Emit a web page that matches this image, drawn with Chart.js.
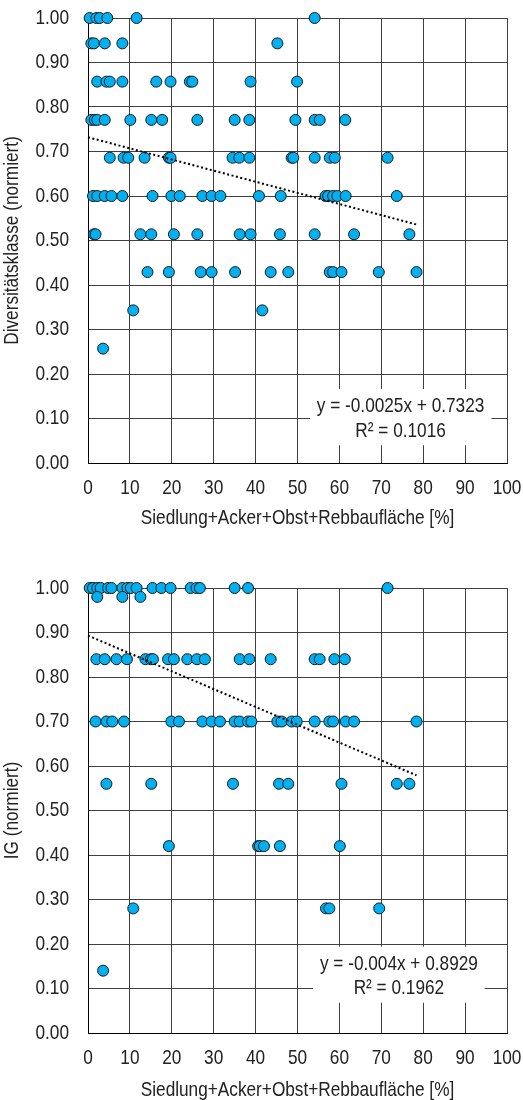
<!DOCTYPE html>
<html>
<head>
<meta charset="utf-8">
<script src="https://cdn.jsdelivr.net/npm/chart.js@4.4.1/dist/chart.umd.min.js"></script>
<style>
  html, body { margin: 0; padding: 0; background: #fff; overflow: hidden; }
  .wrap { position: absolute; left: 0; width: 523px; }
  #wrap1 { top: 0; height: 550px; }
  #wrap2 { top: 545px; height: 560px; }
</style>
</head>
<body>
<div class="wrap" id="wrap1"><canvas id="chart1" width="523" height="550"></canvas></div>
<div class="wrap" id="wrap2"><canvas id="chart2" width="523" height="560"></canvas></div>
<script>
// x axis: Siedlung+Acker+Obst+Rebbaufläche [%]
const xTicks = [0, 10, 20, 30, 40, 50, 60, 70, 80, 90, 100];
const yTicks = [0, 0.1, 0.2, 0.3, 0.4, 0.5, 0.6, 0.7, 0.8, 0.9, 1.0];

// Diversitätsklasse: one y level per row, x values
const divLevels = [1.000, 0.943, 0.857, 0.771, 0.686, 0.600, 0.514, 0.429, 0.343, 0.257];
const divRows = [
  [0.4, 2.0, 2.8, 4.6, 11.6, 54.1],
  [0.8, 1.4, 4.0, 8.2, 45.2],
  [2.2, 4.4, 5.2, 8.2, 16.3, 19.7, 24.3, 24.9, 38.8, 49.9],
  [0.8, 1.6, 2.2, 4.0, 10.1, 15.1, 17.7, 26.1, 35.0, 38.5, 49.5, 54.1, 55.3, 61.4],
  [5.2, 8.5, 9.6, 13.5, 19.3, 19.7, 34.5, 36.1, 38.5, 48.6, 49.0, 54.1, 57.7, 58.9, 71.5],
  [1.2, 2.2, 4.0, 5.6, 8.2, 15.4, 19.9, 21.9, 27.3, 29.5, 31.6, 40.8, 46.0, 56.7, 57.3, 58.5, 59.5, 61.5, 73.7],
  [1.4, 1.8, 12.5, 15.1, 20.5, 26.1, 36.2, 38.8, 45.8, 54.1, 63.5, 76.7],
  [14.2, 19.3, 26.9, 29.5, 35.1, 43.6, 47.8, 57.7, 58.5, 60.5, 69.4, 78.4],
  [10.8, 41.6],
  [3.6]
];
const divTrendX = [0, 78.8];
const divTrendY = [0.732, 0.535];
const divEq = ['y = -0.0025x + 0.7323', 'R² = 0.1016'];

// IG (normiert)
const igLevels = [1.00, 0.98, 0.84, 0.70, 0.56, 0.42, 0.28, 0.14];
const igRows = [
  [0.4, 1.2, 2.2, 3.0, 4.8, 5.6, 8.2, 9.4, 10.2, 11.6, 15.4, 17.5, 19.7, 24.5, 25.9, 26.7, 35.0, 38.2, 71.5],
  [2.2, 8.2, 12.5],
  [2.0, 4.0, 6.8, 9.3, 13.7, 15.0, 15.5, 19.1, 20.5, 23.7, 26.0, 27.9, 36.2, 38.5, 43.6, 54.1, 55.3, 58.8, 61.3],
  [1.8, 4.4, 5.8, 8.6, 19.9, 21.7, 27.3, 29.5, 31.5, 35.0, 36.2, 38.2, 39.0, 45.2, 46.2, 48.6, 49.8, 54.1, 57.6, 58.5, 61.5, 63.5, 78.4],
  [4.4, 15.1, 34.6, 45.6, 47.8, 60.5, 73.7, 76.7],
  [19.3, 40.6, 41.0, 42.0, 45.8, 60.1],
  [10.8, 56.8, 57.6, 69.5],
  [3.6]
];
const igTrendX = [0, 78.4];
const igTrendY = [0.893, 0.579];
const igEq = ['y = -0.004x + 0.8929', 'R² = 0.1962'];

const FONT = "'Liberation Sans', Arial, sans-serif";
const SQUEEZE = 0.82; // the original uses a narrow font
Chart.defaults.font.family = FONT;
Chart.defaults.font.size = 21;
Chart.defaults.color = '#222';

function toPoints(levels, rows) {
  const pts = [];
  rows.forEach((row, i) => row.forEach(x => pts.push({ x: x, y: levels[i] })));
  return pts;
}

// no narrow font installed, so squeeze every text horizontally
const narrowText = {
  id: 'narrowText',
  beforeInit(chart) {
    const ctx = chart.ctx;
    const orig = ctx.fillText.bind(ctx);
    ctx.fillText = function (text, x, y, maxWidth) {
      ctx.save();
      ctx.translate(x, y);
      ctx.scale(SQUEEZE, 1);
      if (maxWidth !== undefined) orig(text, 0, 0, maxWidth / SQUEEZE);
      else orig(text, 0, 0);
      ctx.restore();
    };
  }
};

// white box with regression equation
const eqLabel = {
  id: 'eqLabel',
  beforeDatasetsDraw(chart, args, opts) {
    const { ctx, scales: { x, y } } = chart;
    const l = x.getPixelForValue(opts.box[0]);
    const r = x.getPixelForValue(opts.box[1]);
    const t = y.getPixelForValue(opts.box[2]);
    const b = y.getPixelForValue(opts.box[3]);
    ctx.save();
    ctx.fillStyle = '#fff';
    ctx.fillRect(l, t, r - l, b - t);
    ctx.fillStyle = '#222';
    ctx.font = '21px ' + FONT;
    ctx.textAlign = 'center';
    ctx.textBaseline = 'middle';
    opts.lines.forEach((s, i) => {
      ctx.fillText(s, x.getPixelForValue(opts.cx), y.getPixelForValue(opts.ys[i]));
    });
    ctx.restore();
  }
};

function makeChart(id, opt) {
  return new Chart(document.getElementById(id), {
    data: {
      datasets: [
        {
          type: 'line',
          data: opt.trendX.map((x, i) => ({ x: x, y: opt.trendY[i] })),
          borderColor: '#000',
          borderWidth: 2,
          borderDash: [2, 2.5],
          pointRadius: 0,
          fill: false,
          clip: false,
          order: 0
        },
        {
          type: 'scatter',
          data: toPoints(opt.levels, opt.rows),
          backgroundColor: '#00b0f0',
          borderColor: '#1a1a1a',
          borderWidth: 1,
          pointRadius: 5.5,
          clip: false,
          order: 1
        }
      ]
    },
    options: {
      responsive: false,
      animation: false,
      layout: { padding: { top: opt.padTop, right: 16, left: 0, bottom: 0 } },
      plugins: {
        legend: { display: false },
        tooltip: { enabled: false },
        eqLabel: { lines: opt.eq, cx: opt.eqX, ys: opt.eqY, box: opt.box }
      },
      scales: {
        x: {
          type: 'linear',
          min: 0,
          max: 100,
          afterBuildTicks: (s) => { s.ticks = xTicks.map(v => ({ value: v })); },
          afterFit: (s) => { s.height = opt.xHeight; s.paddingLeft = 0; s.paddingRight = 0; },
          ticks: { padding: 13, color: '#222', callback: (v) => String(v) },
          grid: { color: '#404040', lineWidth: 1, drawTicks: false },
          border: { display: true, color: '#000', width: 1 },
          title: {
            display: true,
            text: 'Siedlung+Acker+Obst+Rebbaufläche [%]',
            color: '#222',
            padding: { top: 0, bottom: opt.titlePad }
          }
        },
        y: {
          type: 'linear',
          min: 0,
          max: 1,
          afterBuildTicks: (s) => { s.ticks = yTicks.map(v => ({ value: v })); },
          afterFit: (s) => { s.width = 88; s.paddingTop = 0; s.paddingBottom = 0; },
          ticks: { padding: 19, color: '#222', callback: (v) => Number(v).toFixed(2) },
          grid: { color: '#404040', lineWidth: 1, drawTicks: false },
          border: { display: true, color: '#000', width: 1 },
          title: {
            display: true,
            text: opt.yTitle,
            color: '#222',
            padding: { top: 0, bottom: 0 }
          }
        }
      }
    },
    plugins: [narrowText, eqLabel]
  });
}

makeChart('chart1', {
  levels: divLevels, rows: divRows,
  trendX: divTrendX, trendY: divTrendY,
  eq: divEq, eqX: 74.6, eqY: [0.128, 0.071], box: [53.0, 96.3, 0.166, 0.040],
  yTitle: 'Diversitätsklasse (normiert)',
  padTop: 18, xHeight: 87, titlePad: 19
});

makeChart('chart2', {
  levels: igLevels, rows: igRows,
  trendX: igTrendX, trendY: igTrendY,
  eq: igEq, eqX: 74.2, eqY: [0.1535, 0.0996], box: [53.7, 94.7, 0.194, 0.068],
  yTitle: 'IG (normiert)',
  padTop: 43, xHeight: 72, titlePad: 2
});
</script>
</body>
</html>
